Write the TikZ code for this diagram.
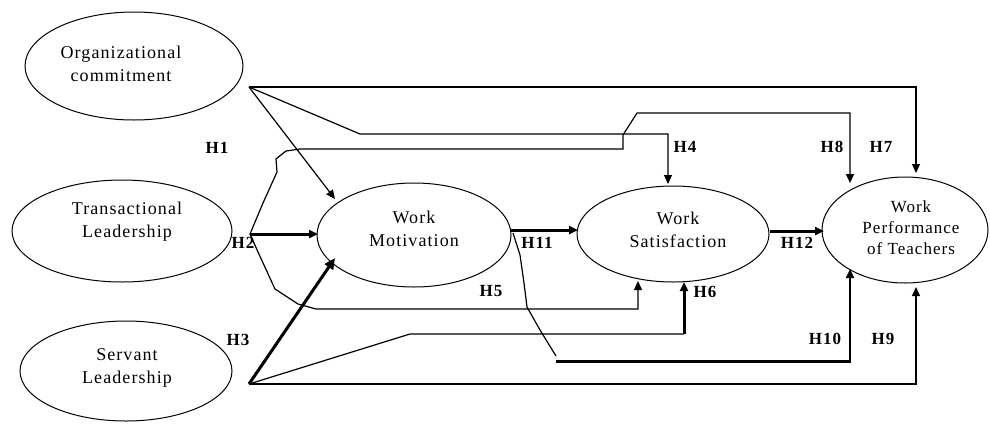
\documentclass[tikz,border=0pt]{standalone}
\usepackage{fontspec}
\setmainfont{Liberation Serif}
\newfontfamily\lsfont[LetterSpace=6]{Liberation Serif}
\usetikzlibrary{shapes.geometric,arrows.meta}
\begin{document}
\begin{tikzpicture}[x=1pt,y=-1pt,
  latent/.style={draw,ellipse,line width=1pt,inner sep=0pt},
  ltext/.style={align=center,font=\lsfont\fontsize{18}{23}\selectfont,inner sep=0pt},
  hyp/.style={font=\lsfont\fontsize{17}{18}\selectfont\bfseries,inner sep=0pt},
  thin/.style={line width=1.2pt},
  thick/.style={line width=3pt},
  arr/.style={-{Triangle[length=9pt,width=8pt]}},
  arrt/.style={-{Triangle[length=11pt,width=10pt]}}]
\useasboundingbox (0,0) rectangle (990,424);
% ellipses
\node[latent,minimum width=218pt,minimum height=108pt] (oc) at (134,66) {};
\node[latent,minimum width=220pt,minimum height=102pt] (tl) at (122,231) {};
\node[latent,minimum width=212pt,minimum height=100pt] (sl) at (126,371) {};
\node[latent,minimum width=194pt,minimum height=104pt] (wm) at (414,235) {};
\node[latent,minimum width=192pt,minimum height=96pt] (ws) at (673,234) {};
\node[latent,minimum width=166pt,minimum height=106pt] (wp) at (905,230) {};
% texts
\node[ltext] (ocT) at (121,64) {Organizational\\commitment};
\node[ltext] (tlT) at (127,222) {Transactional\\Leadership};
\node[ltext] (slT) at (127,368) {Servant\\Leadership};
\node[ltext] (wmT) at (414,229) {Work\\Motivation};
\node[ltext] (wsT) at (678,230) {Work\\Satisfaction};
\node[ltext,font=\lsfont\fontsize{17}{21}\selectfont] (wpT) at (911,228) {Work\\Performance\\of Teachers};
% origin points
\coordinate (O) at (249,87);
\coordinate (T) at (250,234);
\coordinate (S) at (249,384);
% end coordinates
\coordinate (h7e) at (916,173);
\coordinate (h4e) at (668,184);
\coordinate (h8e) at (850,183);
\coordinate (h1e) at (335,199);
\coordinate (h2e) at (318,234);
\coordinate (h3e) at (335,258);
\coordinate (h5e) at (638,281);
\coordinate (h6e) at (684,282);
\coordinate (h9e) at (916,287);
\coordinate (h10e) at (850,269);
\coordinate (h11s) at (511,230);
\coordinate (h11e) at (578,230);
\coordinate (h12s) at (770,231);
\coordinate (h12e) at (824,231);
\coordinate (h10s) at (513,233);
% connectors from organizational commitment
\draw[thin,arr] (O) -- (916,87) -- (h7e);
\draw[thin,arr] (O) -- (360,134) -- (668,134) -- (h4e);
\draw[thin,arr] (O) -- (h1e);
% transactional leadership
\draw[thick,arr] (T) -- (h2e);
\draw[thin,arr] (T) -- (263,203) -- (277,172) -- (276,159) -- (286,151) -- (300,149) -- (623,149) -- (623,135) -- (637,113) -- (850,113) -- (h8e);
\draw[thin,arr] (T) -- (258,252) -- (275,289) -- (298,304) -- (316,309) -- (638,309) -- (h5e);
% servant leadership
\draw[thick,arrt] (S) -- (h3e);
\draw[thin] (S) -- (410,334) -- (684,334);
\draw[thick,arr] (684,334) -- (h6e);
\draw[thin,arr] (S) -- (916,384) -- (h9e);
% work motivation
\draw[thick,arr] (h11s) -- (h11e);
\draw[thin] (h10s) -- (520,255) -- (524,283) -- (527,307) -- (540,330) -- (556,356);
\draw[thick] (556,361) -- (850,361);
\draw[line width=2.2pt,arr] (850,362.5) -- (h10e);
% work satisfaction
\draw[thick,arr] (h12s) -- (h12e);
% labels
\node[hyp] (H1) at (217,148) {H1};
\node[hyp] (H2) at (243,243) {H2};
\node[hyp] (H3) at (238,340) {H3};
\node[hyp] (H4) at (685,147) {H4};
\node[hyp] (H5) at (491,291) {H5};
\node[hyp] (H6) at (705,292) {H6};
\node[hyp] (H7) at (881,147) {H7};
\node[hyp] (H8) at (832,147) {H8};
\node[hyp] (H9) at (883,339) {H9};
\node[hyp] (H10) at (825,339) {H10};
\node[hyp] (H11) at (537,243) {H11};
\node[hyp] (H12) at (797,243) {H12};
\end{tikzpicture}
\end{document}
